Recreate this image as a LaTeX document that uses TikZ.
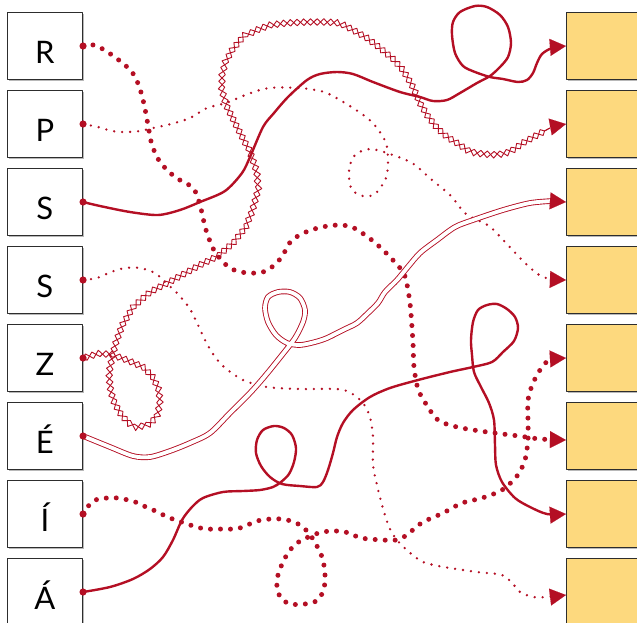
\documentclass[tikz,border=0pt]{standalone}
\usepackage{fontspec}
\setmainfont{Lato}
\usetikzlibrary{arrows.meta,decorations.pathmorphing}
\definecolor{ribbon}{RGB}{180,15,36}
\definecolor{answer}{RGB}{253,217,126}
\definecolor{frame}{RGB}{45,45,45}

\begin{document}
\begin{tikzpicture}[x=1pt,y=-1pt, line join=round,
    box/.style={draw=frame, line width=1.5pt, minimum width=74.8pt, minimum height=66.6pt, inner sep=0pt,
      preaction={fill=black!28, transform canvas={shift={(1.2pt,-1.6pt)}}}},
    letter/.style={box, fill=white, font=\fontsize{31}{31}\selectfont, text height=34pt, text depth=0pt},
    slot/.style={box, fill=answer},
    headed/.style={-{Triangle[length=16pt,width=17pt,line width=0.1pt]}},
    wire/.style={ribbon, line width=2.4pt},
    bigdots/.style={ribbon, line width=5pt, line cap=round, dash pattern=on 0pt off 10pt},
    smalldots/.style={ribbon, line width=2.6pt, line cap=round, dash pattern=on 0pt off 8pt},
    diamonds/.style={ribbon, line width=0.9pt, decorate, decoration={zigzag, segment length=13.4pt, amplitude=#1}},
    twin/.style={ribbon, double=white, line width=0.9pt, double distance=3.8pt}]
  \useasboundingbox (0,0) rectangle (637,622);
  \foreach \t [count=\i] in {R,P,S,S,Z,É,Í,Á} {
    \node[letter] (l\i) at (44.9,{46+78*(\i-1)}) {\t};
    \node[slot] (r\i) at (604.1,{46+78*(\i-1)}) {};
  }

  \draw[bigdots,headed] plot[smooth] coordinates {(l1.east) (94,45) (106,51) (120,61) (132,72) (139,86) (144,104) (148,125) (152,145) (160,162) (175,177) (193,188) (200,205) (206,230) (215,252) (230,268) (248,273) (266,271) (281,258) (291,241) (306,232) (322,227) (340,225) (354,228) (373,241) (390,257) (404,274) (409,296) (411,314) (413,343) (414,367) (418,389) (426,404) (438,420) (457,427) (487,432) (519,436) (540,439) ([yshift=-4pt]r6.west)};

  \draw[smalldots,headed] plot[smooth] coordinates {(l2.east) (98,127) (112,131) (125,132) (140,131) (153,128) (171,124) (190,118) (207,108) (226,103) (248,94) (269,88) (299,88) (324,92) (345,103) (366,117) (377,128) (386,143) (388,160) (386,178) (375,194) (363,196) (352,190) (349,177) (350,165) (356,154) (370,149) (387,153) (412,163) (432,180) (451,196) (466,214) (489,226) (506,243) (525,263) (543,277) (r4.west)};

  \draw[wire,headed] plot[smooth] coordinates {(l3.east) (100,206) (130,212) (158,215) (180,210) (200,202) (225,191) (242,173) (250,157) (263,127) (274,113) (288,97) (307,80) (320,74) (337,72) (353,74) (373,82) (400,92) (420,97) (433,101) (447,100) (460,93) (477,83) (490,76) (500,67) (508,57) (511,43) (508,27) (500,15) (487,7) (475,6) (460,12) (453,22) (452,35) (455,53) (463,66) (475,72) (490,77) (503,79) (518,82) (527,80) (533,73) (537,63) (542,54) (552,48) (r1.west)};

  \draw[smalldots,headed] plot[smooth] coordinates {(l4.east) (97,278) (111,272) (125,268) (140,268) (155,273) (165,282) (178,294) (190,309) (198,325) (205,340) (213,354) (224,367) (243,380) (267,387) (300,389) (337,389) (351,393) (363,403) (370,417) (373,437) (373,465) (377,485) (382,505) (389,527) (397,540) (409,552) (423,562) (444,567) (477,572) (502,575) (513,584) (520,592) (533,597) (548,597) ([yshift=-3pt]r8.west)};

  \foreach \amp in {3.3pt,-3.3pt}
    \draw[diamonds=\amp] plot coordinates {(l5.east) (97,354) (110,354) (127,360) (143,367) (153,377) (159,390) (160,403) (157,417) (148,425) (137,427) (128,423) (120,413) (113,400) (110,387) (109,373) (112,358) (116,342) (122,326) (133,307) (150,292) (173,280) (200,265) (218,256) (233,243) (245,228) (252,212) (258,190) (257,172) (250,152) (237,127) (226,105) (222,90) (222,77) (225,63) (232,50) (243,37) (257,30) (270,25) (287,23) (307,22) (327,22) (340,23) (353,30) (367,38) (380,48) (392,58) (403,70) (413,87) (420,103) (427,115) (437,128) (447,137) (457,143) (470,152) (483,154) (497,155) (510,152) (523,143) (537,135) (550,128)};
  \draw[ribbon,line width=0.9pt,headed] (550,127) -- (r2.west);

  \draw[twin] plot[smooth] coordinates {(l6.east) (110,447) (133,456) (150,457) (170,451) (190,443) (210,433) (230,413) (250,393) (265,376) (282,355) (295,338) (303,322) (305,310) (300,298) (290,292) (278,292) (268,297) (265,308) (268,322) (276,335) (287,343) (300,345) (315,342) (327,338) (343,330) (357,323) (368,313) (378,303) (385,292) (397,280) (407,268) (420,253) (437,240) (455,227) (473,220) (503,210) (530,203) (552,201)};
  \draw[ribbon,line width=0.9pt,headed] (552,201) -- (r3.west);

  \draw[bigdots,headed] plot[smooth] coordinates {(l7.east) (90,504) (98,499) (108,498) (118,498) (128,500) (138,503) (148,508) (158,512) (167,517) (176,520) (187,524) (197,527) (206,529) (224,529) (235,529) (243,527) (252,523) (261,520) (271,519) (281,519) (291,521) (300,525) (307,531) (313,539) (319,550) (323,560) (325,575) (324,588) (318,600) (305,604) (290,604) (281,598) (277,588) (278,575) (283,562) (290,550) (300,541) (311,536) (322,532) (337,531) (349,533) (361,538) (383,540) (396,540) (407,535) (416,527) (425,521) (443,513) (462,503) (482,498) (502,490) (517,476) (525,460) (528,440) (528,420) (528,400) (533,383) (542,367) (550,360) (r5.west)};

  \draw[wire,headed] plot[smooth] coordinates {(l8.east) (110,587) (133,579) (150,569) (163,557) (173,540) (182,520) (192,507) (203,498) (223,492) (243,491) (260,490) (273,487) (281,482) (289,474) (294,462) (296,448) (292,435) (284,428) (274,426) (263,430) (257,440) (256,453) (261,466) (270,477) (282,484) (300,486) (317,487) (323,482) (328,470) (333,453) (337,437) (343,423) (353,410) (370,397) (390,388) (418,380) (450,372) (473,367) (492,362) (503,352) (514,341) (518,328) (515,317) (507,309) (497,304) (487,305) (478,310) (473,322) (471,340) (472,355) (474,372) (481,387) (489,403) (494,420) (495,445) (496,465) (502,482) (515,498) (530,507) (547,514) (r7.west)};

  \foreach \i in {1,...,8}
    \fill[ribbon] (l\i.east) circle (3.6pt);
\end{tikzpicture}
\end{document}
